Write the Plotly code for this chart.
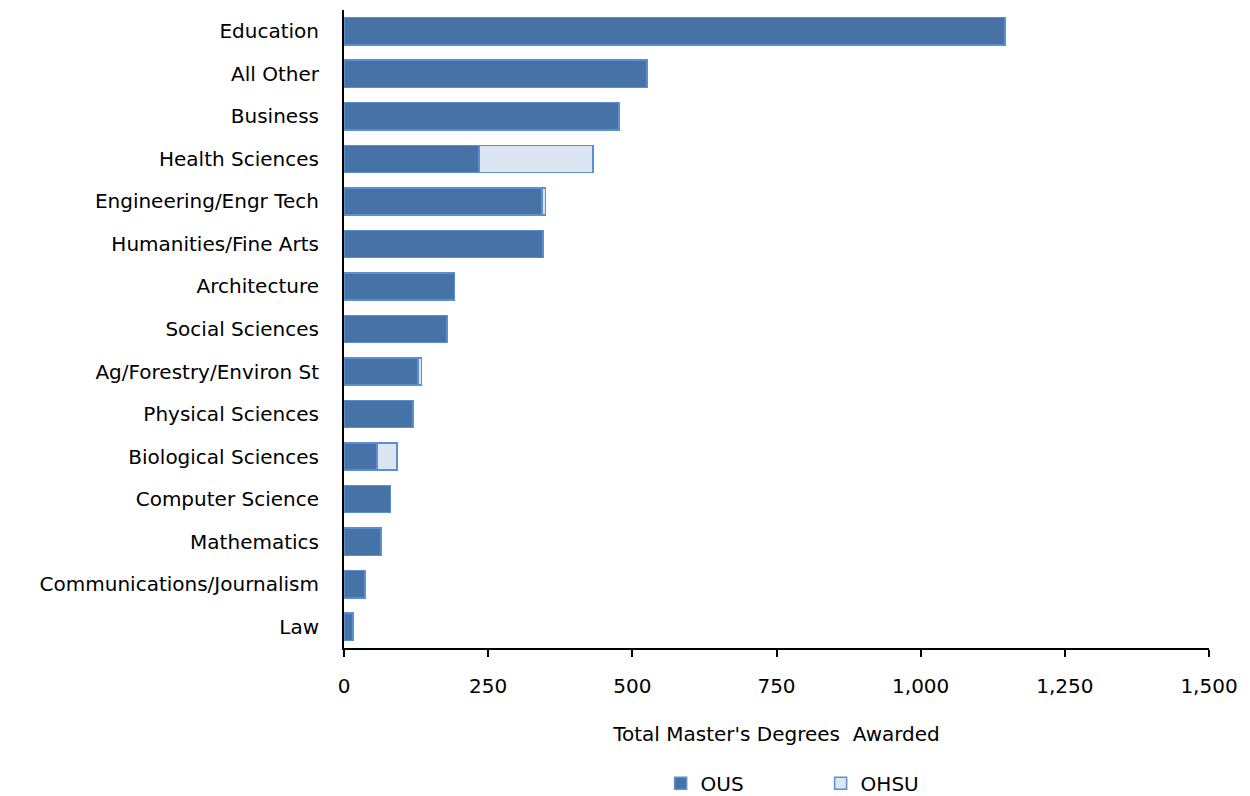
import plotly.graph_objects as go

categories = ["Education", "All Other", "Business", "Health Sciences", "Engineering/Engr Tech",
              "Humanities/Fine Arts", "Architecture", "Social Sciences", "Ag/Forestry/Environ St",
              "Physical Sciences", "Biological Sciences", "Computer Science", "Mathematics",
              "Communications/Journalism", "Law"]
ous = [1146, 525, 477, 234, 343, 345, 192, 179, 128, 120, 57, 81, 64, 36, 16]
ohsu = [0, 0, 0, 198, 6, 0, 0, 0, 6, 0, 35, 0, 0, 0, 0]
tick_vals = [0, 250, 500, 750, 1000, 1250, 1500]
tick_text = ["0", "250", "500", "750", "1,000", "1,250", "1,500"]

font_family = "DejaVu Sans, Open Sans, sans-serif"

fig = go.Figure()
fig.add_trace(go.Bar(y=categories, x=ous, name="OUS", orientation="h",
                     marker=dict(color="#4672a6", line=dict(color="#5b8fd4", width=1.5))))
fig.add_trace(go.Bar(y=categories, x=ohsu, name="OHSU", orientation="h",
                     marker=dict(color="#dce6f2", line=dict(color="#5b8fd4", width=1.5))))

fig.update_layout(
    barmode="stack",
    bargap=0.36,
    width=1242, height=788,
    margin=dict(l=336, r=41, t=2, b=148, autoexpand=False),
    plot_bgcolor="white", paper_bgcolor="white",
    font=dict(family=font_family, size=20, color="#000000"),
    showlegend=True,
    legend=dict(orientation="h", x=0.551, xanchor="center", y=-0.212, yanchor="middle",
                font=dict(size=20), traceorder="normal", entrywidth=115),
    xaxis=dict(range=[0, 1500], tickvals=tick_vals, ticktext=tick_text,
               showgrid=False, zeroline=False, showline=True, linecolor="#000000", linewidth=2,
               ticks="outside", ticklen=7, tickwidth=1.5, tickcolor="#000000",
               tickfont=dict(size=20), ticklabelstandoff=12, automargin=False,
               title=dict(text="Total Master's Degrees  Awarded", font=dict(size=20), standoff=30)),
    yaxis=dict(autorange="reversed", showgrid=False, zeroline=False, showline=True,
               linecolor="#000000", linewidth=2, ticks="", ticklabelstandoff=19,
               tickfont=dict(size=20), automargin=False),
)

fig.write_html("out.html")
